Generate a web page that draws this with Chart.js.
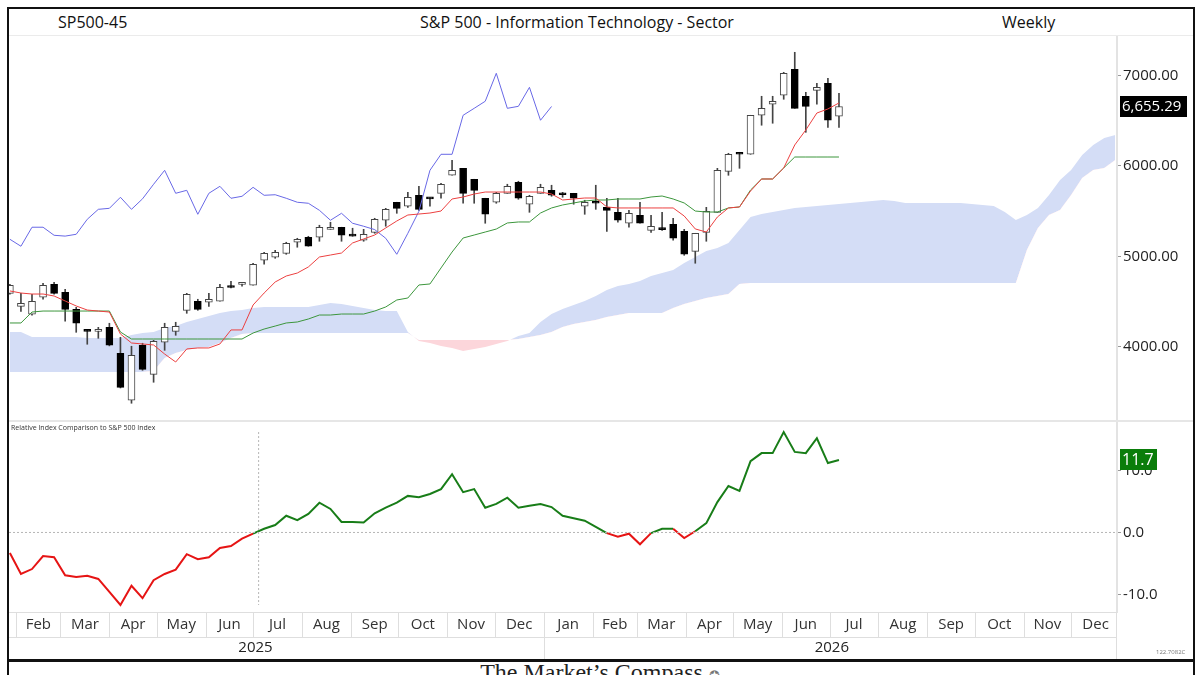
<!DOCTYPE html>
<html>
<head>
<meta charset="utf-8">
<script src="https://cdn.jsdelivr.net/npm/chart.js@4.4.1/dist/chart.umd.min.js"></script>
<style>
  html, body { margin: 0; padding: 0; background: #fff; }
  body { width: 1200px; height: 675px; overflow: hidden; position: relative; font-family: "Open Sans", sans-serif; color: #111; }
  #ramme { position: absolute; left: 7px; top: 7px; width: 1184px; height: 720px; border: 2px solid #111; }
  .tekst { position: absolute; font-size: 16px; line-height: 24px; top: 10px; white-space: nowrap; }
  #kode { left: 58px; }
  #tittel { left: 0; width: 1154px; text-align: center; }
  #periode { left: 1002px; }
  #hodelinje { position: absolute; left: 9px; top: 35px; width: 1184px; height: 1px; background: #ebebeb; }
  #skille { position: absolute; left: 9px; top: 420px; width: 1184px; height: 2px; background: #e6e6e6; }
  canvas { position: absolute; left: 9px; }
  #pris { top: 36px; }
  #relativ { top: 421px; }
  #panelnavn { position: absolute; left: 11px; top: 423px; font-size: 7px; line-height: 9px; color: #333; }
  #bunnlinje { position: absolute; left: 9px; top: 659px; width: 1184px; height: 3px; background: #111; }
  #fot { position: absolute; left: 0; width: 1200px; top: 659px; text-align: center; font-family: "Liberation Serif", serif; font-size: 24px; line-height: 26px; color: #222; }
  #fot span { font-size: 13px; color: #777; }
  #skala { position: absolute; left: 1156px; top: 649px; font-size: 6px; line-height: 7px; color: #777; }
</style>
</head>
<body>
<div id="ramme"></div>
<div class="tekst" id="kode">SP500-45</div>
<div class="tekst" id="tittel">S&amp;P 500 - Information Technology - Sector</div>
<div class="tekst" id="periode">Weekly</div>
<div id="hodelinje"></div>
<canvas id="pris" width="1184" height="385"></canvas>
<canvas id="relativ" width="1184" height="238"></canvas>
<div id="skille"></div>
<div id="panelnavn">Relative Index Comparison to S&amp;P 500 Index</div>
<div id="skala">122.7082C</div>
<div id="bunnlinje"></div>
<div id="fot">The Market’s Compass <span>✪</span></div>
<script>
// ukentlige lys, uke 0 = 28. jan 2025
const åpning = [4591, 4447, 4359, 4547, 4691, 4602, 4414, 4175, 4171, 4215,
  3928, 3409, 4017, 3696, 4050, 4171, 4403, 4503, 4492, 4503,
  4662, 4690, 4680, 4956, 4989, 5033, 5155, 5210, 5210, 5298,
  5321, 5228, 5177, 5265, 5398, 5597, 5553, 5674, 5645, 5696,
  5895, 5972, 5851, 5641, 5597, 5696, 5818, 5575, 5696, 5729,
  5690, 5696, 5553, 5597, 5541, 5486, 5365, 5453, 5287, 5300,
  5354, 5276, 5055, 5265, 5486, 5939, 6149, 6127, 6558, 6680,
  6779, 7066, 6768, 6834, 6912, 6547];
const høy = [4691, 4591, 4580, 4702, 4713, 4635, 4436, 4182, 4215, 4260,
  4105, 4006, 4039, 4072, 4260, 4271, 4591, 4525, 4591, 4691,
  4724, 4713, 4923, 5044, 5066, 5155, 5199, 5221, 5343, 5376,
  5321, 5310, 5298, 5420, 5530, 5597, 5707, 5773, 5645, 5807,
  6060, 5972, 5851, 5641, 5707, 5796, 5829, 5674, 5796, 5785,
  5707, 5696, 5619, 5785, 5641, 5641, 5508, 5597, 5453, 5486,
  5420, 5298, 5254, 5541, 5972, 6138, 6149, 6558, 6768, 6768,
  7033, 7254, 6812, 6912, 6967, 6801];
const lav = [4580, 4392, 4348, 4525, 4580, 4282, 4160, 4028, 4094, 4010,
  3545, 3376, 3740, 3608, 3961, 4127, 4370, 4403, 4447, 4503,
  4650, 4669, 4680, 4912, 4978, 5022, 5100, 5111, 5166, 5298,
  5166, 5221, 5166, 5254, 5332, 5475, 5541, 5508, 5553, 5641,
  5895, 5586, 5586, 5365, 5586, 5696, 5630, 5486, 5696, 5663,
  5652, 5575, 5464, 5519, 5276, 5376, 5321, 5365, 5265, 5287,
  5177, 5011, 4923, 5166, 5486, 5895, 5972, 6127, 6448, 6470,
  6735, 6635, 6370, 6680, 6425, 6425];
const slutt = [4680, 4480, 4503, 4680, 4591, 4414, 4260, 4170, 4175, 4017,
  3552, 3906, 3751, 4061, 4215, 4227, 4580, 4414, 4525, 4657,
  4655, 4697, 4912, 5033, 5044, 5144, 5188, 5111, 5321, 5321,
  5232, 5223, 5243, 5409, 5519, 5530, 5652, 5519, 5635, 5796,
  5950, 5696, 5729, 5464, 5696, 5773, 5641, 5663, 5762, 5674,
  5680, 5641, 5597, 5586, 5508, 5398, 5475, 5365, 5332, 5295,
  5199, 5022, 5254, 5497, 5950, 6127, 6127, 6558, 6635, 6713,
  7022, 6635, 6657, 6867, 6503, 6655.29];

// Ichimoku-linjer lest av bildet
const tenkan = [4617, 4594, 4583, 4583, 4561, 4506, 4451, 4406, 4395, 4384,
  4141, 4042, 4031, 4020, 3920, 3832, 3976, 3987, 3987, 4031,
  4186, 4186, 4462, 4594, 4716, 4782, 4815, 4882, 4992, 5014,
  5036, 5147, 5191, 5235, 5313, 5390, 5456, 5467, 5478, 5500,
  5633, 5655, 5688, 5710, 5710, 5710, 5710, 5710, 5710, 5688,
  5622, 5633, 5644, 5644, 5545, 5534, 5534, 5534, 5534, 5534,
  5534, 5445, 5302, 5268, 5434, 5534, 5545, 5721, 5854, 5854,
  5976, 6230, 6396, 6583, 6628, 6694];
const kijun = [4263, 4263, 4384, 4395, 4395, 4395, 4395, 4395, 4395, 4395,
  4163, 4086, 4086, 4086, 4086, 4086, 4086, 4086, 4086, 4086,
  4086, 4086, 4152, 4196, 4229, 4263, 4274, 4307, 4351, 4351,
  4362, 4362, 4362, 4395, 4440, 4517, 4539, 4683, 4694, 4871,
  5047, 5202, 5235, 5268, 5301, 5368, 5379, 5379, 5478, 5534,
  5567, 5589, 5611, 5622, 5622, 5633, 5633, 5633, 5655, 5666,
  5633, 5589, 5500, 5489, 5489, 5534, 5545, 5732, 5854, 5854,
  5976, 6097, 6097, 6097, 6097, 6097];
const forsinket = [5188, 5111, 5321, 5321, 5232, 5223, 5243, 5409, 5519, 5530,
  5652, 5519, 5635, 5796, 5950, 5696, 5729, 5464, 5696, 5773,
  5641, 5663, 5762, 5674, 5680, 5641, 5597, 5586, 5508, 5398,
  5475, 5365, 5332, 5295, 5199, 5022, 5254, 5497, 5950, 6127,
  6127, 6558, 6635, 6713, 7022, 6635, 6657, 6867, 6503, 6655.29];
const spennA = [4163, 4163, 4108, 4108, 4108, 4108, 4108, 4097, 4097, 4097,
  4097, 4130, 4152, 4163, 4208, 4230, 4274, 4307, 4340, 4373,
  4395, 4406, 4429, 4440, 4440, 4440, 4440, 4440, 4462, 4484,
  4473, 4451, 4429, 4406, 4395, 4395, 4163, 4064, 4042, 4009,
  3987, 3954, 3976, 3998, 4031, 4064, 4119, 4152, 4274, 4362,
  4418, 4462, 4506, 4561, 4627, 4672, 4694, 4727, 4782, 4816,
  4849, 4926, 4992, 5058, 5092, 5147, 5290, 5434, 5467, 5490,
  5512, 5534, 5545, 5556, 5567, 5578, 5589, 5600, 5611, 5622,
  5611, 5589, 5589, 5589, 5589, 5589, 5589, 5578, 5567, 5556,
  5490, 5401, 5457, 5534, 5677, 5843, 5954, 6119, 6230, 6307,
  6340];
const spennB = [3722, 3722, 3722, 3722, 3722, 3722, 3722, 3722, 3722, 3722,
  3722, 3722, 3722, 3733, 3876, 3932, 3965, 3987, 3998, 4042,
  4097, 4141, 4152, 4152, 4152, 4152, 4152, 4152, 4152, 4152,
  4152, 4152, 4152, 4152, 4152, 4152, 4152, 4075, 4075, 4075,
  4075, 4075, 4075, 4075, 4075, 4075, 4086, 4108, 4130, 4163,
  4219, 4252, 4274, 4296, 4329, 4351, 4373, 4373, 4373, 4373,
  4429, 4473, 4506, 4539, 4561, 4583, 4694, 4705, 4705, 4705,
  4705, 4705, 4705, 4705, 4705, 4705, 4705, 4705, 4705, 4705,
  4705, 4705, 4705, 4705, 4705, 4705, 4705, 4705, 4705, 4705,
  4705, 4705, 5070, 5313, 5457, 5512, 5677, 5865, 5954, 5976,
  6064];

// relativ styrke mot S&P 500
const relativ = [-3.3, -6.7, -5.9, -3.8, -4.0, -6.9, -7.2, -7.0, -7.5, -9.6,
  -11.7, -8.6, -10.6, -7.7, -6.7, -6.0, -3.5, -4.3, -4.0, -2.5,
  -2.2, -1.0, -0.2, 0.6, 1.2, 2.7, 2.0, 3.0, 4.8, 3.8,
  1.7, 1.7, 1.6, 3.1, 4.0, 4.8, 5.9, 5.7, 6.2, 7.0,
  9.4, 6.5, 7.0, 4.0, 4.6, 5.6, 4.0, 4.3, 4.6, 4.1,
  2.7, 2.3, 1.9, 0.9, -0.1, -0.7, -0.2, -1.9, -0.1, 0.6,
  0.6, -0.9, 0.2, 1.5, 4.9, 7.5, 6.7, 11.5, 12.8, 12.8,
  16.2, 13.0, 12.8, 15.2, 11.2, 11.7];

const prisTikker = [4000, 5000, 6000, 7000];
const relativTikker = [-10, 0, 10];
const månedsnavn = ["Jan", "Feb", "Mar", "Apr", "May", "Jun", "Jul", "Aug", "Sep", "Oct", "Nov", "Dec"];
const årstall = [2025, 2026];
const nullKryssUke = 22.5;

const X_MIN = -0.08;
const X_MAX = 100.15;
const startDato = Date.UTC(2025, 0, 28);
const ukeMs = 7 * 864e5;

function ukeFor(år, mnd) {
  return (Date.UTC(år, mnd, 1) - startDato) / ukeMs;
}

const månedsTikker = [];
årstall.forEach((år) => {
  for (let m = 0; m < 12; m++) {
    const fra = ukeFor(år, m);
    const til = ukeFor(år, m + 1);
    const midt = (fra + til) / 2;
    if (midt < X_MIN || midt > X_MAX) continue;
    månedsTikker.push({ fra, til, midt, tekst: månedsnavn[m] });
  }
});

const skrift = { family: "'Open Sans', sans-serif", size: 15 };
const tekstFarge = "#222";
const xy = (liste) => liste.map((v, i) => ({ x: i, y: v }));

// fjern Chart.js sin ekstra luft rundt aksene
function nullPadding(skala) {
  skala.paddingTop = 0;
  skala.paddingBottom = 0;
  skala.paddingLeft = 0;
  skala.paddingRight = 0;
}

function yAkse(min, max, tikker, desimaler) {
  return {
    position: "right",
    min,
    max,
    afterFit: (skala) => {
      skala.width = 76;
      nullPadding(skala);
    },
    afterBuildTicks: (skala) => { skala.ticks = tikker.map((v) => ({ value: v })); },
    ticks: {
      color: tekstFarge,
      font: skrift,
      padding: 2,
      callback: (v) => Number(v).toFixed(desimaler),
    },
    grid: { drawOnChartArea: false, tickLength: 4, color: "#999" },
    border: { color: "#e3e3e3", width: 2 },
  };
}

function merkelapp(id, aksen, verdi, tekst, farge, bredde, størrelse) {
  return {
    id,
    afterDraw(chart) {
      const { ctx, chartArea } = chart;
      const y = chart.scales[aksen].getPixelForValue(verdi);
      const x = chartArea.right + 3;
      ctx.save();
      ctx.fillStyle = farge;
      ctx.fillRect(x, Math.round(y - 10.5), bredde, 21);
      ctx.fillStyle = "#fff";
      ctx.font = `${størrelse}px 'Open Sans', sans-serif`;
      ctx.textBaseline = "middle";
      ctx.fillText(tekst, x + 2, y);
      ctx.restore();
    },
  };
}

const sisteSlutt = slutt[slutt.length - 1];
const sisteRelativ = relativ[relativ.length - 1];

new Chart(document.getElementById("pris"), {
  type: "bar",
  data: {
    datasets: [
      {
        type: "line",
        data: xy(spennA),
        borderWidth: 0,
        pointRadius: 0,
        fill: { target: "+1", above: "rgb(212, 221, 246)", below: "rgb(252, 214, 219)" },
        order: 10,
      },
      {
        type: "line",
        data: xy(spennB),
        borderWidth: 0,
        pointRadius: 0,
        fill: false,
        order: 10,
      },
      {
        data: lav.map((v, i) => ({ x: i, y: [v, høy[i]] })),
        backgroundColor: "#444",
        borderWidth: 0,
        barThickness: 1,
        grouped: false,
        order: 6,
      },
      {
        data: åpning.map((v, i) => ({ x: i, y: [v, slutt[i]] })),
        backgroundColor: åpning.map((v, i) => (slutt[i] >= v ? "#fff" : "#000")),
        borderColor: åpning.map((v, i) => (slutt[i] >= v ? "#444" : "#000")),
        borderWidth: 1,
        borderSkipped: false,
        barThickness: 7,
        minBarLength: 2,
        grouped: false,
        order: 5,
      },
      {
        type: "line",
        data: xy(forsinket),
        borderColor: "rgb(104, 104, 230)",
        borderWidth: 1,
        pointRadius: 0,
        order: 3,
      },
      {
        type: "line",
        data: xy(kijun),
        borderColor: "rgb(60, 150, 60)",
        borderWidth: 1,
        pointRadius: 0,
        order: 2,
      },
      {
        type: "line",
        data: xy(tenkan),
        borderColor: "rgb(236, 64, 64)",
        borderWidth: 1,
        pointRadius: 0,
        order: 1,
      },
    ],
  },
  options: {
    responsive: false,
    animation: false,
    layout: { padding: { top: 1, bottom: 1, left: 0, right: 0 } },
    plugins: { legend: { display: false }, tooltip: { enabled: false } },
    scales: {
      x: { type: "linear", min: X_MIN, max: X_MAX, offset: false, display: false },
      y: yAkse(3191, 7423, prisTikker, 2),
    },
  },
  plugins: [merkelapp("prisMerke", "y", sisteSlutt, sisteSlutt.toLocaleString("en-US", { minimumFractionDigits: 2 }), "#000", 67, 15)],
});

const aksePynt = {
  id: "aksePynt",
  afterDraw(chart) {
    const { ctx, chartArea, scales } = chart;
    const x = scales.x;
    const bunn = chartArea.bottom;
    const linje = (x1, y1, x2, y2) => {
      ctx.beginPath();
      ctx.moveTo(x1, y1);
      ctx.lineTo(x2, y2);
      ctx.stroke();
    };
    ctx.save();
    ctx.strokeStyle = "#dedede";
    ctx.lineWidth = 1;
    linje(chartArea.left, bunn + 0.5, chartArea.right, bunn + 0.5);
    linje(chartArea.left, bunn + 25.5, chartArea.right, bunn + 25.5);
    månedsTikker.forEach((t) => {
      [t.fra, t.til].forEach((v) => {
        if (v < X_MIN || v > X_MAX) return;
        const px = Math.round(x.getPixelForValue(v)) + 0.5;
        linje(px, bunn, px, bunn + 25);
      });
    });
    linje(chartArea.right - 0.5, bunn, chartArea.right - 0.5, bunn + 47);
    ctx.fillStyle = tekstFarge;
    ctx.font = "15px 'Open Sans', sans-serif";
    ctx.textAlign = "center";
    ctx.textBaseline = "middle";
    årstall.forEach((år) => {
      const fra = ukeFor(år, 0);
      const til = ukeFor(år + 1, 0);
      if (fra > X_MIN) {
        const px = Math.round(x.getPixelForValue(fra)) + 0.5;
        linje(px, bunn + 25, px, bunn + 47);
      }
      ctx.fillText(String(år), x.getPixelForValue((fra + til) / 2), bunn + 36);
    });
    ctx.restore();
  },
};

new Chart(document.getElementById("relativ"), {
  type: "line",
  data: {
    datasets: [
      {
        data: [{ x: X_MIN, y: 0 }, { x: X_MAX, y: 0 }],
        borderColor: "#b5b5b5",
        borderWidth: 1,
        borderDash: [2, 2],
        pointRadius: 0,
      },
      {
        data: [{ x: nullKryssUke, y: 16.2 }, { x: nullKryssUke, y: -11.7 }],
        borderColor: "#b5b5b5",
        borderWidth: 1,
        borderDash: [2, 2],
        pointRadius: 0,
      },
      {
        data: xy(relativ),
        borderWidth: 2,
        pointRadius: 0,
        segment: {
          borderColor: (c) => ((c.p0.parsed.y + c.p1.parsed.y) / 2 < 0 ? "rgb(230, 20, 20)" : "rgb(24, 125, 24)"),
        },
      },
    ],
  },
  options: {
    responsive: false,
    animation: false,
    layout: { padding: { top: 1, bottom: 0, left: 0, right: 0 } },
    plugins: { legend: { display: false }, tooltip: { enabled: false } },
    scales: {
      x: {
        type: "linear",
        min: X_MIN,
        max: X_MAX,
        offset: false,
        afterFit: (skala) => {
          skala.height = 47;
          nullPadding(skala);
        },
        afterBuildTicks: (skala) => { skala.ticks = månedsTikker.map((t) => ({ value: t.midt })); },
        ticks: {
          autoSkip: false,
          maxRotation: 0,
          padding: 4,
          color: "#333",
          font: skrift,
          callback: (v, i) => månedsTikker[i].tekst,
        },
        grid: { display: false, drawTicks: false },
        border: { display: false },
      },
      y: yAkse(-12.83, 17.82, relativTikker, 1),
    },
  },
  plugins: [aksePynt, merkelapp("relativMerke", "y", sisteRelativ, sisteRelativ.toFixed(1), "rgb(10, 125, 10)", 37, 16)],
});
</script>
</body>
</html>
